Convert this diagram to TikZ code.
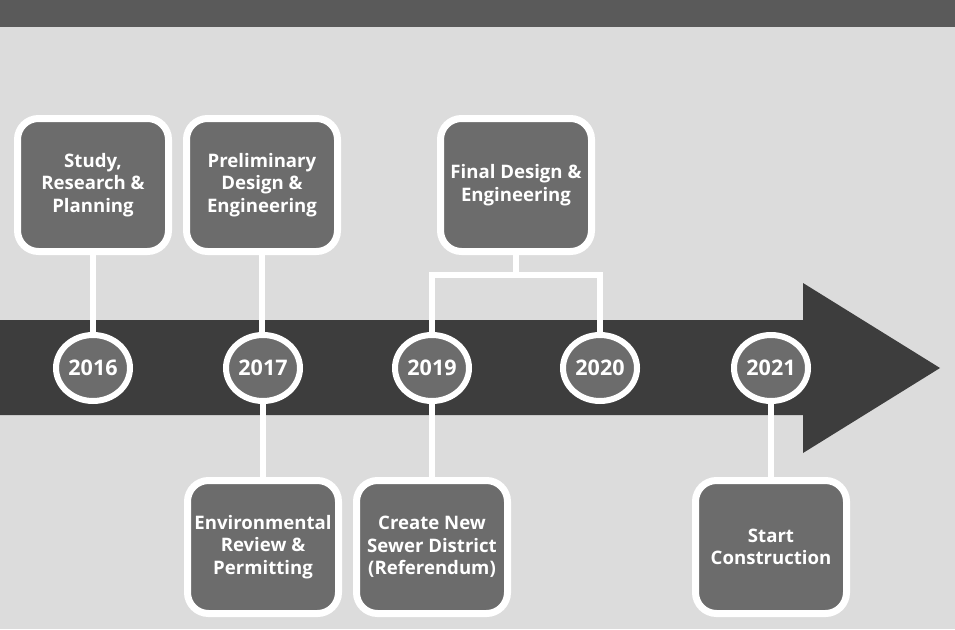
\documentclass[tikz,border=0pt]{standalone}
\usepackage{fontspec}
\setmainfont{Open Sans}
\usetikzlibrary{shapes.geometric,shadows}

\definecolor{bggray}{HTML}{DCDCDC}
\definecolor{bargray}{HTML}{5A5A5A}
\definecolor{arrowgray}{HTML}{3D3D3D}
\definecolor{boxgray}{HTML}{6C6C6C}

\begin{document}
\begin{tikzpicture}[x=1pt,y=-1pt]
        \fill[bggray] (0,0) rectangle (955,629);
        \useasboundingbox (0,0) rectangle (955,629);
        \fill[bargray] (0,0) rectangle (955,27);

        % timeline arrow
        \fill[arrowgray] (0,320) -- (803,320) -- (803,283) -- (940,368)
            -- (803,453) -- (803,415) -- (0,415) -- cycle;

        \begin{scope}[every node/.style={fill=boxgray, draw=white, line width=7,
                      rounded corners=21, minimum width=151, minimum height=133,
                      align=center, text=white, inner sep=2,
                      font=\bfseries\fontsize{18.6}{22.5}\selectfont,
                      general shadow={fill=black, opacity=0.12, shadow scale=1.035}}]
            \node (study) at (93,185) {Study,\\Research \&\\Planning};
            \node (prelim) at (262,185) {Preliminary\\Design \&\\Engineering};
            \node (final) at (516,185) {Final Design \&\\Engineering};
            \node (env) at (263,547) {Environmental\\Review \&\\Permitting};
            \node (create) at (432,547) {Create New\\Sewer District\\(Referendum)};
            \node (start) at (771,547) {Start\\Construction};
        \end{scope}

        \begin{scope}[every node/.style={ellipse, fill=boxgray, draw=white, line width=6,
                      minimum width=74, minimum height=66, inner sep=0, text=white,
                      font=\bfseries\fontsize{21.5}{24}\selectfont}]
            \node (y2016) at (93,368) {2016};
            \node (y2017) at (263,368) {2017};
            \node (y2019) at (432,368) {2019};
            \node (y2020) at (600,368) {2020};
            \node (y2021) at (771,368) {2021};
        \end{scope}

        \coordinate (fork) at (516,275);

        \begin{scope}[every edge/.style={draw=white, line width=6}]
            \path (study) edge (y2016);
            \path (prelim.south) edge (prelim.south |- y2017.north);
            \path (y2017) edge (env);
            \path (y2019) edge (create);
            \path (y2021) edge (start);
            \path (final) edge (fork);
            \draw[white, line width=6] (y2019.north) |- (fork) -| (y2020.north);
        \end{scope}
    \end{tikzpicture}
\end{document}
